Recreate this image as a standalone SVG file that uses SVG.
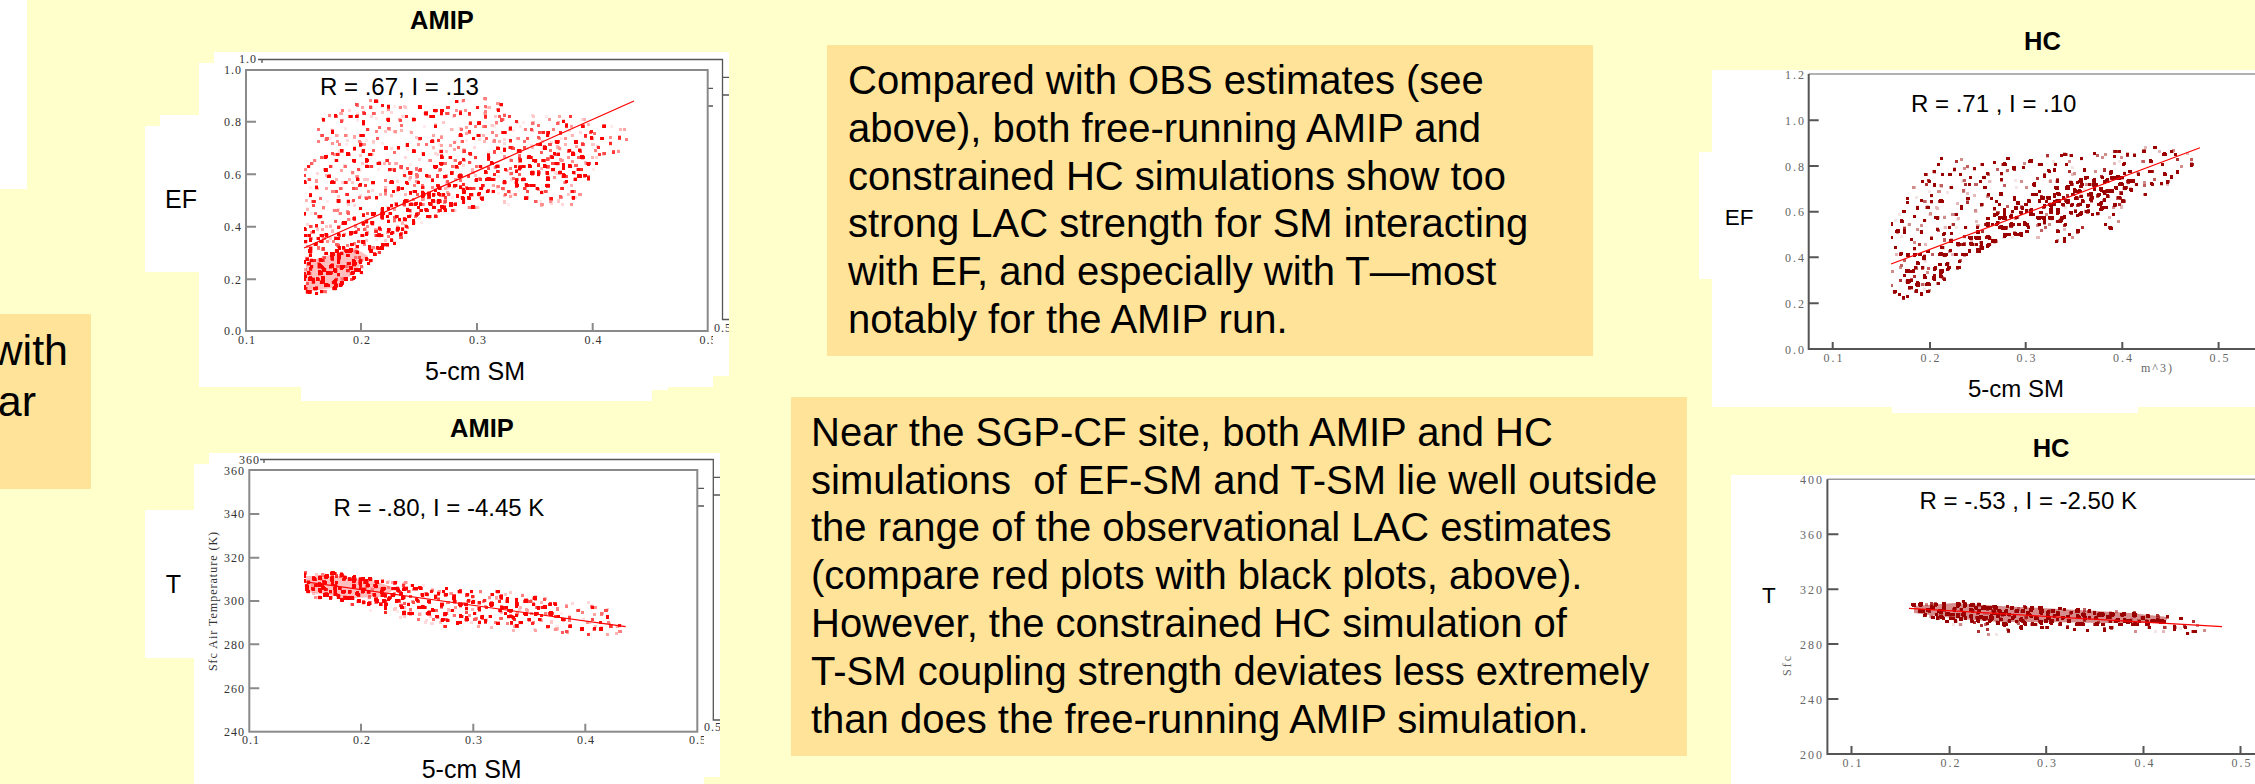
<svg xmlns="http://www.w3.org/2000/svg" width="2255" height="784" viewBox="0 0 2255 784">
<style>
.sans{font-family:"Liberation Sans",Arial,sans-serif;fill:#000}
.body{font-size:40px}
.lbl{font-size:25px}
.rl{font-size:24px}
.ttl{font-size:25.5px;font-weight:bold}
.tk{font-family:"Liberation Serif","Times New Roman",serif;font-size:12px;fill:#333;letter-spacing:1px}
.tkh{font-family:"Liberation Serif","Times New Roman",serif;font-size:12px;fill:#666;letter-spacing:2px}
.fr{fill:none;stroke:#8a8a8a;stroke-width:2}
.fr2{fill:none;stroke:#555;stroke-width:1.3}
.ha{fill:none;stroke:#555;stroke-width:2}
.ht{fill:none;stroke:#999;stroke-width:1.5}
.reg{stroke:#f00;stroke-width:1.2}
.box{fill:#FFE399}
.wh{fill:#fff}
.env{fill:#000}
.coreA{fill:#ff0000;fill-opacity:0.25}
.coreH{fill:#a00000;fill-opacity:0.45}
</style>
<defs>
<filter id="scA" x="0" y="0" width="1" height="1" color-interpolation-filters="sRGB">
<feTurbulence type="fractalNoise" baseFrequency="0.32" numOctaves="1" seed="11" result="n"/>
<feColorMatrix in="n" type="matrix" values="0 0 0 0 0  0 0 0 0 0  0 0 0 0 0  1 0 0 0 0" result="na"/>
<feComposite in="na" in2="SourceAlpha" operator="arithmetic" k1="0" k2="1" k3="0.25" k4="-0.25" result="s"/>
<feComponentTransfer in="s" result="t"><feFuncA type="linear" slope="18" intercept="-10.65"/></feComponentTransfer>
<feMorphology in="t" operator="dilate" radius="1" result="d"/>
<feFlood flood-color="#ff0000" result="f"/>
<feComposite in="f" in2="d" operator="in"/>
</filter>
<filter id="scH" x="0" y="0" width="1" height="1" color-interpolation-filters="sRGB">
<feTurbulence type="fractalNoise" baseFrequency="0.3" numOctaves="1" seed="5" result="n"/>
<feColorMatrix in="n" type="matrix" values="0 0 0 0 0  0 0 0 0 0  0 0 0 0 0  1 0 0 0 0" result="na"/>
<feComposite in="na" in2="SourceAlpha" operator="arithmetic" k1="0" k2="1" k3="0.25" k4="-0.25" result="s"/>
<feComponentTransfer in="s" result="t"><feFuncA type="linear" slope="18" intercept="-10.6"/></feComponentTransfer>
<feMorphology in="t" operator="dilate" radius="1" result="d"/>
<feGaussianBlur in="d" stdDeviation="0.5" result="b"/>
<feComponentTransfer in="b" result="r"><feFuncA type="linear" slope="2.5" intercept="-0.4"/></feComponentTransfer>
<feFlood flood-color="#9a0000" result="f"/>
<feComposite in="f" in2="r" operator="in"/>
</filter>
<clipPath id="cA1"><rect x="685" y="330" width="28" height="20"/></clipPath>
<clipPath id="cA2"><rect x="710" y="318" width="19" height="20"/></clipPath>
<clipPath id="cT1"><rect x="680" y="730" width="24" height="20"/></clipPath>
<clipPath id="cT2"><rect x="700" y="718" width="20" height="20"/></clipPath>
</defs>

<rect width="2255" height="784" fill="#FFFFCC"/>

<g id="left-edge">
<rect class="wh" x="0" y="0" width="27" height="189"/>
<rect class="box" x="0" y="314" width="91" height="175"/>
<text class="sans" font-size="43" x="68" y="365" text-anchor="end">with</text>
<text class="sans" font-size="43" x="36" y="416" text-anchor="end">ar</text>
</g>

<g id="amip-ef">
<g class="wh">
<rect x="214" y="52" width="515" height="12"/>
<rect x="199" y="63" width="530" height="313"/>
<rect x="160" y="115" width="40" height="12"/>
<rect x="145" y="126" width="55" height="146"/>
<rect x="199" y="375" width="514" height="12"/>
<rect x="301" y="386" width="367" height="4"/>
<rect x="301" y="389" width="351" height="12"/>
</g>
<text class="sans ttl" x="410" y="29.3">AMIP</text>
<path class="fr2" d="M258 59.5H722.5V319.5H729M707.7 88.3H713M707.7 106H713M722.5 77.3H729M722.5 95H729M262 59.5V63"/>
<rect class="fr" x="246" y="70" width="461.7" height="261"/>
<path class="fr" d="M246 121.7h10M246 174.3h10M246 226.7h10M246 279.3h10M361 331v-8M477 331v-8M592.7 331v-8"/>
<g class="tk" text-anchor="end">
<text x="257" y="63">1.0</text>
<text x="242" y="74">1.0</text>
<text x="242" y="126">0.8</text>
<text x="242" y="178.5">0.6</text>
<text x="242" y="231">0.4</text>
<text x="242" y="283.5">0.2</text>
<text x="242" y="335">0.0</text>
</g>
<g class="tk" text-anchor="middle">
<text x="247" y="343.5">0.1</text>
<text x="362" y="343.5">0.2</text>
<text x="478" y="343.5">0.3</text>
<text x="593.5" y="343.5">0.4</text>
<text x="708.5" y="343.5" clip-path="url(#cA1)">0.5</text>
<text x="723" y="332" clip-path="url(#cA2)">0.5</text>
</g>
<polygon class="coreA" points="306,292 306,262 330,255 355,248 368,256 352,275 332,288"/>
<g id="amip-ef-scatter" filter="url(#scA)">
<polygon class="env" fill-opacity="0.6" points="304,173 320,116 339,109 373,99 417,106 494,96 514,114 582,116 600,125 634,127 630,145 596,167 586,190 572,207 523,205 485,210 446,213 422,223 397,243 363,273 330,292 304,296"/>
<polygon class="env" fill-opacity="0.5" points="304,296 304,235 330,225 360,215 400,200 440,185 470,180 460,205 430,215 405,235 380,258 355,280 330,292"/>
<polygon class="env" fill-opacity="0.8" points="304,296 304,255 330,248 360,240 375,250 360,275 335,290"/>
<polygon class="env" fill-opacity="0.3" points="390,190 450,165 520,145 580,140 590,175 540,190 480,200 430,210"/>
</g>
<line class="reg" x1="304" y1="248" x2="634" y2="101"/>
<text class="sans rl" x="320" y="95">R = .67, I = .13</text>
<text class="sans lbl" x="165" y="208">EF</text>
<text class="sans lbl" x="425" y="380">5-cm SM</text>
</g>

<g id="amip-t">
<g class="wh">
<rect x="209" y="453" width="511" height="12"/>
<rect x="194" y="464" width="526" height="313"/>
<rect x="145" y="510" width="50" height="148"/>
<rect x="194" y="776" width="510" height="8"/>
</g>
<text class="sans ttl" x="450" y="437.3">AMIP</text>
<path class="fr2" d="M260 459.5H713.3V720H720M697.3 488.3H704M697.3 506H704M713.3 477.3H720M713.3 495H720M264 459.5V463"/>
<rect class="fr" x="249.3" y="470" width="448" height="261.7"/>
<path class="fr" d="M249.3 514h10M249.3 557.7h10M249.3 601h10M249.3 644.3h10M249.3 688.3h10M361 731.7v-8M473.3 731.7v-8M585.3 731.7v-8"/>
<g class="tk" text-anchor="end">
<text x="260" y="463.5">360</text>
<text x="245" y="474.5">360</text>
<text x="245" y="518">340</text>
<text x="245" y="562">320</text>
<text x="245" y="605">300</text>
<text x="245" y="648.5">280</text>
<text x="245" y="692.5">260</text>
<text x="245" y="735.5">240</text>
</g>
<g class="tk" text-anchor="middle">
<text x="251" y="743.5">0.1</text>
<text x="362" y="743.5">0.2</text>
<text x="474" y="743.5">0.3</text>
<text x="586" y="743.5">0.4</text>
<text x="698" y="743.5" clip-path="url(#cT1)">0.5</text>
<text x="713" y="731" clip-path="url(#cT2)">0.5</text>
</g>
<text class="tk" font-size="10.5" letter-spacing="0" text-anchor="middle" transform="translate(216.5 601) rotate(-90)">Sfc Air Temperature (K)</text>
<polygon class="coreA" points="306,576 340,576 378,582 395,588 385,597 350,598 306,592"/>
<g id="amip-t-scatter" filter="url(#scA)">
<polygon class="env" fill-opacity="0.6" points="304,570 340,572 388,579 436,587 485,590 533,594 580,598 600,598 626,628 626,634 600,636 562,634 533,632 485,630 436,627 388,615 339,603 304,596"/>
<polygon class="env" fill-opacity="0.5" points="340,575 400,583 460,590 520,596 560,600 560,620 500,625 440,622 390,610 350,600"/>
<polygon class="env" fill-opacity="0.85" points="304,572 340,573 380,580 410,586 400,600 370,604 340,600 304,594"/>
</g>
<line class="reg" x1="304" y1="581.7" x2="625.7" y2="626.7"/>
<text class="sans rl" x="333.5" y="516">R = -.80, I = -4.45 K</text>
<text class="sans lbl" x="165.7" y="593.3">T</text>
<text class="sans lbl" x="421.7" y="778.3">5-cm SM</text>
</g>

<g id="text-box-1">
<rect class="box" x="827" y="45" width="766" height="311"/>
<g class="sans body">
<text x="848" y="94">Compared with OBS estimates (see</text>
<text x="848" y="141.8">above), both free-running AMIP and</text>
<text x="848" y="189.6">constrained HC simulations show too</text>
<text x="848" y="237.4">strong LAC strength for SM interacting</text>
<text x="848" y="285.2">with EF, and especially with T—most</text>
<text x="848" y="333">notably for the AMIP run.</text>
</g>
</g>

<g id="text-box-2">
<rect class="box" x="791" y="397" width="896" height="359"/>
<g class="sans body">
<text x="811" y="445.7">Near the SGP-CF site, both AMIP and HC</text>
<text x="811" y="493.5" xml:space="preserve">simulations  of EF-SM and T-SM lie well outside</text>
<text x="811" y="541.3">the range of the observational LAC estimates</text>
<text x="811" y="589.1">(compare red plots with black plots, above).</text>
<text x="811" y="636.9">However, the constrained HC simulation of</text>
<text x="811" y="684.7">T-SM coupling strength deviates less extremely</text>
<text x="811" y="732.5">than does the free-running AMIP simulation.</text>
</g>
</g>

<g id="hc-ef">
<g class="wh">
<rect x="1712" y="70" width="543" height="337"/>
<rect x="1699" y="152" width="14" height="127"/>
<rect x="1892" y="406" width="246" height="7"/>
</g>
<text class="sans ttl" font-size="25" x="2024" y="50">HC</text>
<path class="ht" d="M1808.7 74H2255"/>
<path class="ha" d="M1808.7 74V349H2255M1808.7 120.3h10M1808.7 166h10M1808.7 211.7h10M1808.7 257.3h10M1808.7 303.3h10M1832.7 349v-7M1930 349v-7M2025.7 349v-7M2122.3 349v-7M2218.6 349v-7"/>
<g class="tkh" text-anchor="end">
<text x="1806" y="79">1.2</text>
<text x="1806" y="125">1.0</text>
<text x="1806" y="170.5">0.8</text>
<text x="1806" y="216">0.6</text>
<text x="1806" y="262">0.4</text>
<text x="1806" y="308">0.2</text>
<text x="1806" y="353.5">0.0</text>
</g>
<g class="tkh" text-anchor="middle">
<text x="1834" y="362">0.1</text>
<text x="1931" y="362">0.2</text>
<text x="2027" y="362">0.3</text>
<text x="2123.5" y="362">0.4</text>
<text x="2220" y="362">0.5</text>
</g>
<text class="tkh" font-size="10" letter-spacing="0.5" x="2141" y="372">m^3)</text>
<g id="hc-ef-scatter" filter="url(#scH)">
<polygon class="env" fill-opacity="0.57" points="1891,220 1902,197 1919,177 1941,158 1994,160 2026,155 2075,150 2139,146 2196,150 2210,160 2201,162 2160,192 2125,200 2120,233 2089,233 2054,247 2019,243 1994,245 1973,257 1948,277 1927,293 1897,303 1891,302"/>
<polygon class="env" fill-opacity="0.62" points="1960,250 1990,215 2030,195 2080,178 2130,168 2140,190 2120,205 2080,215 2040,228 2000,240 1975,258"/>
<polygon class="env" fill-opacity="0.5" points="1897,303 1900,275 1925,255 1955,240 1975,250 1955,275 1930,293"/>
</g>
<line class="reg" x1="1891" y1="264" x2="2200" y2="147.7"/>
<text class="sans rl" x="1911" y="111.7">R = .71 , I = .10</text>
<text class="sans" font-size="22.5" x="1724.8" y="225">EF</text>
<text class="sans rl" x="1968" y="396.7">5-cm SM</text>
</g>

<g id="hc-t">
<rect class="wh" x="1731" y="475" width="524" height="309"/>
<text class="sans ttl" font-size="25" x="2032.7" y="457.3">HC</text>
<path class="ht" d="M1827.4 479.3H2255"/>
<path class="ha" d="M1827.4 479.3V754H2255M1827.4 534.3h11M1827.4 589.3h11M1827.4 644h11M1827.4 699h11M1851.5 754v-8M1949.6 754v-8M2046.2 754v-8M2143.5 754v-8M2240.5 754v-8"/>
<g class="tkh" text-anchor="end">
<text x="1824" y="484">400</text>
<text x="1824" y="539">360</text>
<text x="1824" y="594">320</text>
<text x="1824" y="648.5">280</text>
<text x="1824" y="703.5">240</text>
<text x="1824" y="758.5">200</text>
</g>
<g class="tkh" text-anchor="middle">
<text x="1853" y="767">0.1</text>
<text x="1951" y="767">0.2</text>
<text x="2047.5" y="767">0.3</text>
<text x="2145" y="767">0.4</text>
<text x="2242" y="767">0.5</text>
</g>
<text class="tkh" font-size="10" letter-spacing="0" text-anchor="middle" transform="translate(1791 665) rotate(-90)">Sfc</text>
<polygon class="coreH" points="1914,606 1955,603 2000,606 2060,609 2130,613 2168,617 2165,623 2100,623 2050,622 2000,622 1960,619 1914,613"/>
<g id="hc-t-scatter" filter="url(#scH)">
<polygon class="env" fill-opacity="0.6" points="1909,603 1955,600 2000,603 2054,606 2125,611 2160,615 2196,619 2215,625 2200,634 2150,634 2100,631 2050,631 2000,637 1980,634 1909,618"/>
<polygon class="env" fill-opacity="0.9" points="1912,604 1955,602 2000,605 2060,608 2130,613 2175,617 2170,625 2100,625 2050,624 2000,625 1960,622 1912,614"/>
</g>
<line class="reg" x1="1909" y1="608.3" x2="2222" y2="626.7"/>
<text class="sans rl" x="1919.5" y="509.3">R = -.53 , I = -2.50 K</text>
<text class="sans" font-size="22.5" x="1762" y="602.7">T</text>
</g>
</svg>
